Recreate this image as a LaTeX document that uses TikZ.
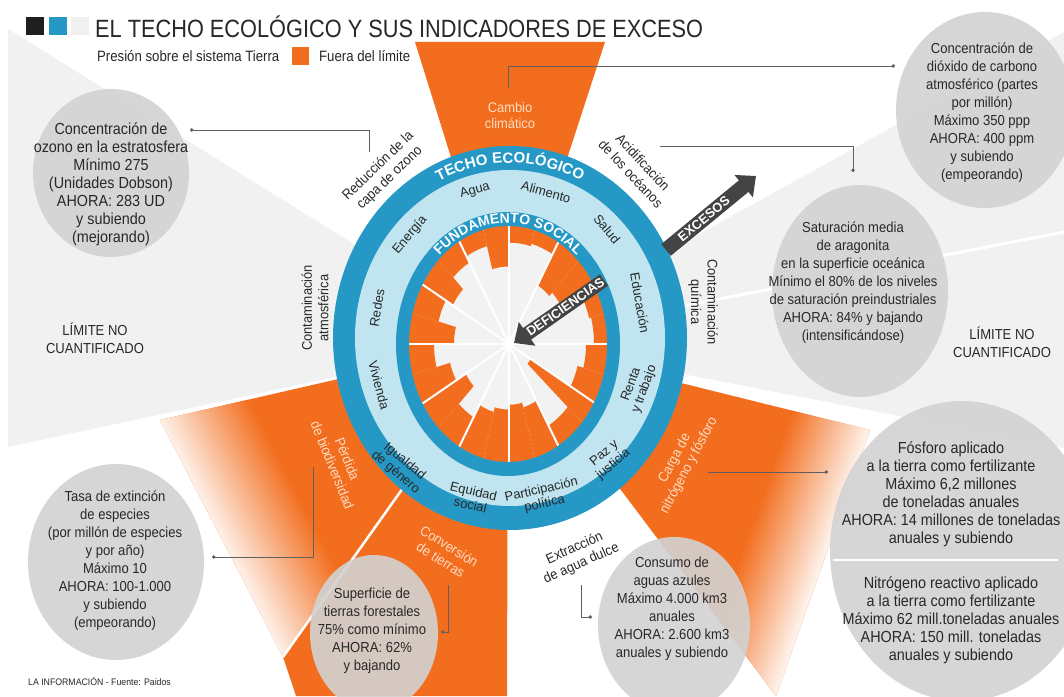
\documentclass[tikz,border=0pt]{standalone}
\usepackage{fontspec}
\setmainfont{Liberation Sans}
\usetikzlibrary{arrows.meta,decorations.text,calc}
\definecolor{ora}{RGB}{242,110,30}
\definecolor{ringblue}{RGB}{38,152,198}
\definecolor{lightblue}{RGB}{192,228,240}
\definecolor{circgray}{RGB}{210,210,210}
\definecolor{bggray}{RGB}{241,241,241}
\definecolor{txt}{RGB}{40,40,40}
\definecolor{peach}{RGB}{255,220,195}
\definecolor{arrowgray}{RGB}{68,68,68}
\definecolor{innergray}{RGB}{242,242,242}
\tikzset{
  ctext/.style={font=\fontsize{14.5}{18}\selectfont, text=txt, align=center, xscale=0.9, inner sep=0pt},
  btext/.style={font=\fontsize{16}{18}\selectfont, text=txt, align=center, xscale=0.9, inner sep=0pt},
  lab/.style={font=\fontsize{14}{16.5}\selectfont, text=txt, align=center, xscale=0.92, inner sep=0pt},
  plab/.style={font=\fontsize{14}{16}\selectfont, text=peach, align=center, xscale=0.92, inner sep=0pt},
  soc/.style={font=\fontsize{13}{14}\selectfont, text=txt, align=center, inner sep=0pt},
  conn/.style={draw=gray!75!black, line width=0.8pt, -{Circle[length=3.5pt]}},
  circ/.style={fill=circgray, fill opacity=0.9},
  bigarrow/.style={draw=arrowgray, line width=15pt, -{Triangle[length=16pt, width=28pt]}},
  arrtxt/.style={font=\bfseries\fontsize{13}{13}\selectfont, text=white, inner sep=0pt},
}
\begin{document}
\begin{tikzpicture}[x=1pt,y=1pt]
\useasboundingbox (0,0) rectangle (1064,696);
\clip (0,0) rectangle (1064,696);
\fill[white] (0,0) rectangle (1064,696);
\coordinate (C0) at (508,356);
% light gray background wedges
\fill[bggray] (C0) -- (8,667) -- (8,249) -- cycle;
\fill[bggray] (C0) -- (1064,664) -- (1064,248) -- cycle;
\draw[white, line width=3pt] (C0) -- (1064,464);
% orange wedges (overshoot)
\fill[ora] (C0) -- (415,654) -- (605,654) -- cycle;
\fill[ora] (C0) -- (160,276) -- (283,39) -- cycle;
\begin{scope}
  \clip (C0) -- (160,276) -- (283,39) -- cycle;
  \begin{scope}[transform canvas={shift={(160,276)}, rotate=27.4}]
    \shade[left color=ora!8!white, right color=ora] (-2,-400) rectangle (88,400);
  \end{scope}
\end{scope}
\fill[ora] (C0) -- (283,39) -- (296,0) -- (507,0) -- cycle;
\draw[white, line width=2.5pt] (C0) -- (283,39);
\fill[ora] (C0) -- (870,266) -- (776,0) -- cycle;
\begin{scope}
  \clip (C0) -- (870,266) -- (776,0) -- cycle;
  \begin{scope}[transform canvas={shift={(870,266)}, rotate=160.5}]
    \shade[left color=ora!5!white, right color=ora] (-2,-400) rectangle (80,400);
  \end{scope}
\end{scope}
% grey indicator circles
\fill[circ] (111,523) ellipse [x radius=78, y radius=84];
\fill[circ] (985,586) ellipse [x radius=89, y radius=98];
\fill[circ] (860,405) ellipse [x radius=88, y radius=106];
\fill[circ] (962,145) ellipse [x radius=132, y radius=150];
\fill[circ] (116,134) ellipse [x radius=88, y radius=98];
\fill[circ] (374,63) ellipse [x radius=64, y radius=78];
\fill[circ] (674,71) ellipse [x radius=76, y radius=88];
\draw[white, line width=1.5pt] (833,136) -- (1058,136);
% doughnut
\fill[ringblue] (510,358) ellipse [x radius=177, y radius=192];
\fill[lightblue] (510,358) ellipse [x radius=155, y radius=168];
\fill[innergray] (508,352) ellipse [x radius=101, y radius=120];
\begin{scope}[shift={(509,352)}, yscale=1.192]
  \foreach \a/\b/\r in {0/15/85, 15/30/83, 30/45/61, 45/60/57, 60/75/87, 75/90/85, 90/105/65, 105/120/85, 120/135/79, 135/150/65, 150/165/73, 165/180/55, 180/195/75, 195/210/61, 210/225/50, 225/240/71, 240/255/59, 255/270/55, 270/285/51, 285/300/55, 300/318/79, 318/330/25, 330/345/71, 345/360/77}
    \fill[ora] (\a:\r) arc[start angle=\a, end angle=\b, radius=\r] -- (\b:101) arc[start angle=\b, end angle=\a, radius=101] -- cycle;
  \foreach \a in {0,30,...,330}
    \draw[white, line width=2pt] (0,0) -- (\a:101);
\end{scope}
\fill[ringblue, even odd rule] (508,352) ellipse [x radius=112, y radius=132] (508,352) ellipse [x radius=99, y radius=118];
\path[decorate, decoration={text along path, text align=center, text color=white,
  text={|\bfseries\fontsize{15}{15}\selectfont|TECHO ECOLÓGICO}}]
  (510,358) ++(135:160 and 175) arc[start angle=135, end angle=45, x radius=160, y radius=175];
\path[decorate, decoration={text along path, text align=center, text color=white,
  text={|\bfseries\fontsize{14}{14}\selectfont|FUNDAMENTO SOCIAL}}]
  (508,352) ++(140:101 and 121) arc[start angle=140, end angle=40, x radius=101, y radius=121];
% social foundation labels
\node[rotate=15, soc] (sagua) at (475,505) {Agua};
\node[rotate=-15, soc] (salim) at (546,504) {Alimento};
\node[rotate=-50, soc] (ssalud) at (607,467) {Salud};
\node[rotate=50, soc] (senerg) at (410,461) {Energía};
\node[rotate=80, soc] (sredes) at (377,388) {Redes};
\node[rotate=-80, soc] (seduc) at (640,393) {Educación};
\node[rotate=-75, soc] (sviv) at (379,311) {Vivienda};
\node[rotate=70, soc] (srenta) at (638,309) {Renta\\y trabajo};
\node[rotate=40, soc] (spaz) at (609,237) {Paz y\\justicia};
\node[rotate=13, soc] (spart) at (543,199) {Participación\\política};
\node[rotate=-13, soc] (sequi) at (472,198) {Equidad\\social};
\node[rotate=-40, soc] (sigual) at (400,229) {Igualdad\\de género};
% ecological ceiling labels
\node[rotate=44, lab] (lozone) at (384,524) {Reducción de la\\capa de ozono};
\node[rotate=-47, lab] (lacid) at (637,528) {Acidificación\\de los océanos};
\node[rotate=-90, lab] (lquim) at (703,394) {Contaminación\\química};
\node[rotate=90, lab] (latm) at (315,388) {Contaminación\\atmosférica};
\node[rotate=24, lab] (lagua) at (578,140) {Extracción\\de agua dulce};
\node[plab] (lclim) at (510,580) {Cambio\\climático};
\node[rotate=-68, plab] (lbio) at (340,234) {Pérdida\\de biodiversidad};
\node[rotate=-32, plab] (lconv) at (445,143) {Conversión\\de tierras};
\node[rotate=62, plab] (lcarga) at (682,234) {Carga de\\nitrógeno y fósforo};
% arrows
\coordinate (d1) at (604,416);
\coordinate (d2) at (514,353);
\draw[bigarrow, line width=14pt] (d1) -- (d2);
\node[rotate=34.9, arrtxt] (deftxt) at ($(d1)!0.43!(d2)$) {DEFICIENCIAS};
\coordinate (e1) at (666,446);
\coordinate (e2) at (756,520);
\draw[bigarrow] (e1) -- (e2);
\node[rotate=39.4, arrtxt] (exctxt) at ($(e1)!0.42!(e2)$) {EXCESOS};
% header
\fill[black!88] (26,661) rectangle (44,679);
\fill[ringblue] (49,661) rectangle (67,679);
\fill[black!6] (71,661) rectangle (89,679);
\node[anchor=west, inner sep=0pt, text=txt, font=\fontsize{25}{25}\selectfont, xscale=0.87] (title) at (95,669) {EL TECHO ECOLÓGICO Y SUS INDICADORES DE EXCESO};
\node[anchor=west, inner sep=0pt, text=txt, font=\fontsize{15}{15}\selectfont, xscale=0.88] (leg1) at (97,640) {Presión sobre el sistema Tierra};
\fill[ora] (292,631) rectangle (309,649);
\node[anchor=west, inner sep=0pt, text=txt, font=\fontsize{15}{15}\selectfont, xscale=0.88] (leg2) at (319,640) {Fuera del límite};
\node[anchor=west, inner sep=0pt, text=txt, font=\fontsize{9.5}{9.5}\selectfont, xscale=0.92] (foot) at (28,15) {LA INFORMACIÓN - Fuente: Paidos};
% circle texts
\node[btext] (tozone) at (111,512) {Concentración de\\ozono en la estratosfera\\Mínimo 275\\(Unidades Dobson)\\AHORA: 283 UD\\y subiendo\\(mejorando)};
\node[ctext] (tco2) at (982,583) {Concentración de\\dióxido de carbono\\atmosférico (partes\\por millón)\\Máximo 350 ppp\\AHORA: 400 ppm\\y subiendo\\(empeorando)};
\node[ctext] (tarag) at (853,413) {Saturación media\\de aragonita\\en la superficie oceánica\\Mínimo el 80\% de los niveles\\de saturación preindustriales\\AHORA: 84\% y bajando\\(intensificándose)};
\node[btext] (tphos) at (951,202) {Fósforo aplicado\\a la tierra como fertilizante\\Máximo 6,2 millones\\de toneladas anuales\\AHORA: 14 millones de toneladas\\anuales y subiendo};
\node[btext] (tnitro) at (951,76) {Nitrógeno reactivo aplicado\\a la tierra como fertilizante\\Máximo 62 mill.toneladas anuales\\AHORA: 150 mill. toneladas\\anuales y subiendo};
\node[ctext] (text) at (115,135) {Tasa de extinción\\de especies\\(por millón de especies\\y por año)\\Máximo 10\\AHORA: 100-1.000\\y subiendo\\(empeorando)};
\node[ctext] (tforest) at (372,65) {Superficie de\\tierras forestales\\75\% como mínimo\\AHORA: 62\%\\y bajando};
\node[ctext] (twater) at (672,87) {Consumo de\\aguas azules\\Máximo 4.000 km3\\anuales\\AHORA: 2.600 km3\\anuales y subiendo};
\node[ctext] (lim1) at (95,358) {LÍMITE NO\\CUANTIFICADO};
\node[ctext] (lim2) at (1002,354) {LÍMITE NO\\CUANTIFICADO};
% connectors
\coordinate (a1) at (508,608); \coordinate (a2) at (508,630); \coordinate (a3) at (895,630);
\draw[conn] (a1) -- (a2) -- (a3);
\coordinate (b1) at (369,544); \coordinate (b2) at (369,566); \coordinate (b3) at (190,566);
\draw[conn] (b1) -- (b2) -- (b3);
\coordinate (c1) at (660,550); \coordinate (c2) at (853,550); \coordinate (c3) at (853,524);
\draw[conn] (c1) -- (c2) -- (c3);
\coordinate (f1) at (313,229); \coordinate (f2) at (313,139); \coordinate (f3) at (212,139);
\draw[conn] (f1) -- (f2) -- (f3);
\coordinate (g1) at (448,111); \coordinate (g2) at (448,64); \coordinate (g3) at (441,64);
\draw[conn] (g1) -- (g2) -- (g3);
\coordinate (h1) at (581,111); \coordinate (h2) at (581,79); \coordinate (h3) at (592,79);
\draw[conn] (h1) -- (h2) -- (h3);
\coordinate (k1) at (708,224); \coordinate (k2) at (828,224);
\draw[conn] (k1) -- (k2);
\end{tikzpicture}
\end{document}
